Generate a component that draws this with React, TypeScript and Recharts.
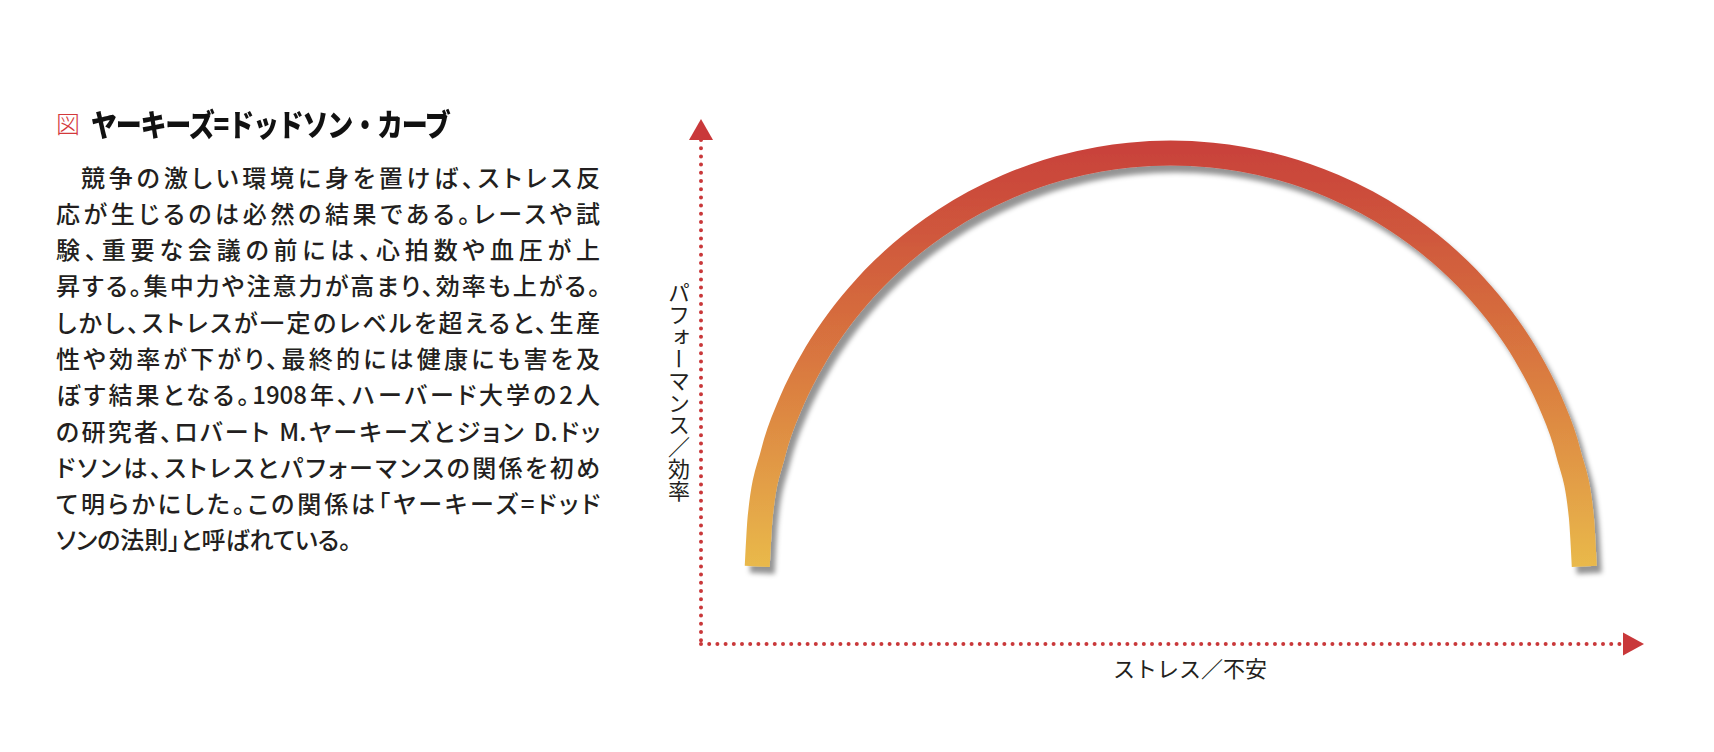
import { Label, Line, LineChart, ReferenceDot, XAxis, YAxis } from "recharts";

// stress (x) vs performance (y)
const stress = [
  6.1, 6.42, 7.82, 9.84, 12.53, 15.07, 17.94, 21.7, 26.48, 29.65, 33.27, 36.28, 38.86, 43.21, 46.47, 50.95,
  55.43, 58.69, 63.04, 65.62, 68.63, 72.25, 75.42, 80.2, 83.96, 86.83, 89.37, 92.06, 94.08, 95.48, 95.8,
];
const performance = [
  15.39, 25.23, 37.87, 48.2, 57.72, 64.61, 70.92, 77.57, 84.13, 87.58, 90.78, 92.91, 94.39, 96.19, 97.01, 97.42,
  97.01, 96.19, 94.39, 92.91, 90.78, 87.58, 84.13, 77.57, 70.92, 64.61, 57.72, 48.2, 37.87, 25.23, 15.39,
];

const xLabel = "ストレス／不安";
const yLabel = "パフォーマンス／効率";
const figMark = "図";
const title = "ヤーキーズ=ドッドソン・カーブ";
const bodyLines = [
  "競争の激しい環境に身を置けば、ストレス反",
  "応が生じるのは必然の結果である。レースや試",
  "験、重要な会議の前には、心拍数や血圧が上",
  "昇する。集中力や注意力が高まり、効率も上がる。",
  "しかし、ストレスが一定のレベルを超えると、生産",
  "性や効率が下がり、最終的には健康にも害を及",
  "ぼす結果となる。1908年、ハーバード大学の2人",
  "の研究者、ロバート M.ヤーキーズとジョン D.ドッ",
  "ドソンは、ストレスとパフォーマンスの関係を初め",
  "て明らかにした。この関係は「ヤーキーズ=ドッド",
  "ソンの法則」と呼ばれている。",
];

const data = stress.map((x, i) => ({ x, y: performance[i] }));

const RED = "#c9383a";
const FONT = "'Noto Sans CJK JP', sans-serif";

const UpArrow = (p: any) => (
  <polygon points={`${p.cx},${p.cy - 21} ${p.cx - 12},${p.cy} ${p.cx + 12},${p.cy}`} fill={RED} />
);
const RightArrow = (p: any) => (
  <polygon points={`${p.cx},${p.cy - 11.5} ${p.cx + 21},${p.cy} ${p.cx},${p.cy + 11.5}`} fill={RED} />
);

const XTitle = ({ viewBox }: any) => (
  <text x={viewBox.x + 489} y={viewBox.y + 23} textAnchor="middle" dominantBaseline="central"
    fontFamily={FONT} fontSize={22} fill="#231f20">{xLabel}</text>
);
const YTitle = ({ viewBox }: any) => (
  <text x={viewBox.x + viewBox.width - 22} y={viewBox.y + 252} textAnchor="middle"
    style={{ writingMode: "vertical-rl" }} fontFamily={FONT} fontSize={22} fill="#231f20">{yLabel}</text>
);

const dotted = { stroke: RED, strokeWidth: 4, strokeDasharray: "0 8.2", strokeLinecap: "round" as const };

export default function App() {
  const last = bodyLines.length - 1;
  return (
    <div style={{ position: "absolute", left: 0, top: 0, width: 1714, height: 752, background: "#fff", fontFamily: FONT }}>
      <div style={{ position: "absolute", left: 0, top: 0 }}>
        <LineChart width={1714} height={752} data={data} margin={{ top: 140, right: 91, bottom: 78, left: 671 }}>
          <defs>
            <linearGradient id="arcGrad" x1="0" y1="0" x2="0" y2="1">
              <stop offset="0%" stopColor="#c9433a" />
              <stop offset="50%" stopColor="#d9773f" />
              <stop offset="100%" stopColor="#e9b94b" />
            </linearGradient>
            <filter id="arcShadow" x="-10%" y="-10%" width="125%" height="130%">
              <feDropShadow dx="5" dy="7" stdDeviation="2.5" floodColor="#000" floodOpacity="0.42" />
            </filter>
          </defs>
          <XAxis type="number" dataKey="x" domain={[0, 100]} height={30} tick={false} tickLine={false} axisLine={dotted}>
            <Label content={XTitle} />
          </XAxis>
          <YAxis type="number" domain={[0, 100]} width={30} tick={false} tickLine={false} axisLine={dotted}>
            <Label content={YTitle} />
          </YAxis>
          <Line type="monotone" dataKey="y" stroke="url(#arcGrad)" strokeWidth={25} dot={false}
            filter="url(#arcShadow)" isAnimationActive={false} />
          <ReferenceDot x={0} y={100} r={0} shape={UpArrow} ifOverflow="visible" />
          <ReferenceDot x={100} y={0} r={0} shape={RightArrow} ifOverflow="visible" />
        </LineChart>
      </div>

      <div style={{ position: "absolute", left: 56, top: 107, lineHeight: "32px", whiteSpace: "nowrap" }}>
        <span style={{ color: "#d3393b", fontSize: 24, fontWeight: 300, verticalAlign: "top" }}>{figMark}</span>
        <span style={{ display: "inline-block", transform: "scaleX(0.84)", transformOrigin: "left center",
          fontSize: 31, fontWeight: 900, letterSpacing: -1.5, marginLeft: 11, color: "#111" }}>{title}</span>
      </div>

      <div style={{ position: "absolute", left: 56, top: 158.5, width: 544, fontSize: 24, lineHeight: "36.3px",
        color: "#231f20", fontWeight: 500, fontFeatureSettings: '"palt"' }}>
        {bodyLines.map((line, i) => (
          <div key={i} style={{ textAlign: i < last ? "justify" : "left", textAlignLast: i < last ? "justify" : "left",
            textIndent: i === 0 ? 25 : 0 }}>{line}</div>
        ))}
      </div>
    </div>
  );
}
